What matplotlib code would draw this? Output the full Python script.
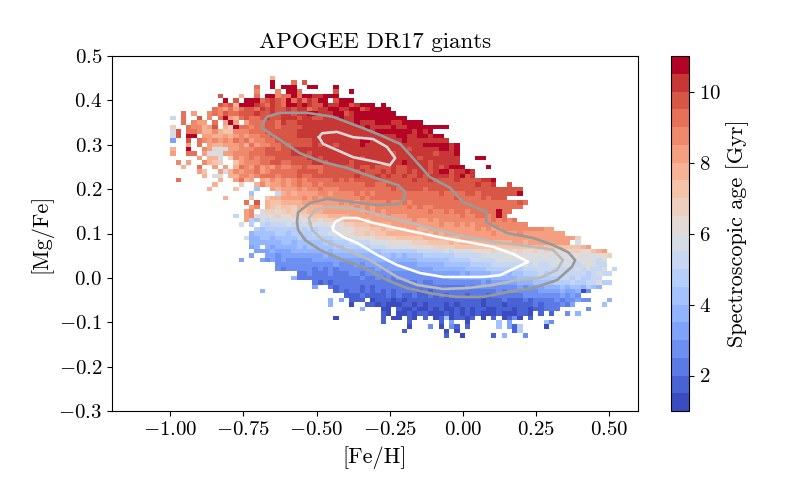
import numpy as np
import matplotlib
matplotlib.use("Agg")
import matplotlib.pyplot as plt
from matplotlib.colors import BoundaryNorm

plt.rcParams['font.family'] = ['cmr10', 'DejaVu Serif']
plt.rcParams['mathtext.fontset'] = 'cm'
plt.rcParams['axes.formatter.use_mathtext'] = True

title = 'APOGEE DR17 giants'
x_label = '[Fe/H]'
y_label = '[Mg/Fe]'
cbar_label = 'Spectroscopic age [Gyr]'
x_ticks = [-1.0, -0.75, -0.5, -0.25, 0.0, 0.25, 0.5]
x_tick_labels = ['$-1.00$', '$-0.75$', '$-0.50$', '$-0.25$', '$0.00$', '$0.25$', '$0.50$']
y_ticks = [-0.3, -0.2, -0.1, 0.0, 0.1, 0.2, 0.3, 0.4, 0.5]
y_tick_labels = ['$-0.3$', '$-0.2$', '$-0.1$', '$0.0$', '$0.1$', '$0.2$', '$0.3$', '$0.4$', '$0.5$']
cbar_ticks = [2, 4, 6, 8, 10]
age_levels = np.arange(1.0, 11.5, 0.5)

# [Fe/H] column index where each [Mg/Fe] row begins (rows run from high to low [Mg/Fe])
row_start = [20, 20, 17, 17, 10, 11, 10, 9, 3, 1, 3, 1, 1, 1, 1, 4, 1, 1, 6, 2, 3, 6, 7, 2, 9, 8,
             16, 11, 15, 16, 15, 13, 15, 14, 17, 16, 15, 16, 16, 17, 16, 14, 21, 21, 25, 24, 28, 28,
             18, 34, 31, 31, 37, 41, 32, 41, 46, 45, 53]
# Binned age per cell, one character per cell: 0-9 then a-j are the 20 age bins, space is empty
age_rows = [
 "d",
 "j   g h",
 "g  j jjj  jj   j",
 "f   f jjg      h  j",
 "h   d  g jjfggjgjjiijjj",
 "j h jjjghihgjgigihjj hjjj",
 "hghdjjjihgihgjjijihhjiijjhijjj j",
 "gfegeghhgihihhihiighiijjiijjhijjjj",
 "g e  fgfhgghhhihhihiihiijjiiijjhijjjjjjjj",
 "8 g  h f gjedghgghihhiiihiihhiiijiijjjjjjjjjj",
 "g fee g eje eggghhgihhiiiiiiiiiiijiiijjjiijjjj",
 "b  gffdeh dbjggfgghhghhhhiiiiiiiiiiiijiiiijiijjjjjjjj",
 "9h ggfddfdccfffggghhhhhhiiiiiiiiiiiiiiijjjjjjjijij",
 "9h jj eeddedefeffgghhhhhiiiiiiiiiiiiiii" "iiiijjiijjijj",
 "4  h gfefefegfgeffgghhhhhhhiiiiiiiiijji" "iiiiijiiiiiiii",
 "e g eddeeefdgeffgghghhhhihiihiiiijii" "iiiiiiiiijjjjjij",
 "d  j  fe9a9eefffgghhghhiiiiiiiiiiiiiiii" "iiiiiihiiiiijjij",
 "e  gg e9a9eefffggghhhhhiiihiiiiiiiiiiii" "iiihiiiiiiihiiij",
 "e dd9 bfefgfggghhhhhhiihiiiiiiihii" "iiiiiiiihiiiiiii" "   jj",
 "f e  fdcb  cefffgghhgghhhhiihiiiihiiii" "iiiiijiiiihiiiii",
 "d  g  e e dgfegefegffgghggghhhhhhihhihhhihhiiiihihijjj    j",
 "ec  e9dfeffgefggggghhhhghhhhhhhihhhihihhihiihijjhiiji",
 "d 9a ddffefgggfggghgghhhhhhhhihhhihihhihhihiiiihijhi",
 "g       d  egde edfefefgfggggghghghhhhhhhhhhhihhihhhhihhhhiij",
 "d    b  dfdeefefgffgfgggggggghhgghhhhhhhhhhhhhhhhhihhi  h",
 "d    c   6  edeeefeffgfffgggggggggghghhhhghhhhhhhhhhhhhhhhhh",
 "6    8dedeeeeffeffffgfgfgggggggggggghgggghhghhhhhhhj",
 "d    c  cddeeeefefefffffffgfgggggggggggggggghgggghghhh",
 "g h dccddddeeeeeeefefefffffgffgfgggggggggggggggggggghg",
 "ef dcbccbdcdddeeeeeefefeffffffgfgffggggggggggggggggg",
 "ef 9bbabcbccdddeeeeeeeefefeffffffffgffgfggfgggggjgg",
 "8 efa9a9baababbcccddddeeeeeeefeeeffffffffffgffggfgjg",
 "e76989999a9aababbccdddedeeeeeeeefeefeffffffffffgfgfg",
 "9 7 8788898898999a9abbcccddddeeeeeeeeefeefefeffffffffff",
 "7677777787878889a9abbbccdccddeeddeeeeeeeeefefeefffff" + "fffee",
 "56666776777788899aaabbcbccdddddddededeeeeeeeeefeeeefeee" + "eeeee",
 "9556656666767777788899a9abbbbcccccdddddddeeeeeeeeeeeeeeeeeee" + "eeeb",
 "55555566566666767778888999aaaaabbbccccdcddddddddddeedeeeeee" + "ee 9",
 "45 5455556566666767777788899999aaaabbbbccccccccccccccccdcccccccde",
 "444544455" "5555656666" "6666677777" "7788888989" "999aaabaab" "abaababaaa" "abbaacde",
 "4  " "4434444" "4444545555" "5555566565" "6667777778" "888899999a" "99a9a9a9a9" "a9a9a9aab",
 "4   " "4" "3434333" "3344444444" "4445555555" "5566666677" "7788888999" "9999999999" "999a9989",
 "33333" "3333334333" "4344444444" "4455555666" "6677778888" "8898988999" "9989a988",
 "32333" "3323232333" "3333434444" "4444455555" "5666677777" "7788888888" "88989889 8",
 "22322232223" "3233333333" "3334444444" "5455556665" "6677787888" "888878988",
 "5" "22222222222" "2322323233" "3333333344" "4444445555" "5666777778" "8787788",
 "21212222" "2222222222" "2232233333" "3333434444" "4555666677" "787788a77",
 "4  " "21222" "2121222222" "2222222222" "2323333333" "3434445556" "5665765",
 "5             " "1212" "2121212122" "2212122222" "2222222323" "3333344445" "44503",
 "11" "1211112121" "1211212122" "2122212222" "2233333334" "343",
 "5 4 111 " "01110101" "1111111111" "1110111211" "1212222323" "3433   5",
 "5   0  " "11010001" "1010111010" "1111011101" "1111212223" "24     6",
 "5   " "00 10" "0100101001" "0101100111" "011011222" "     3",
 "10 00" "1011000101" "0101000100" "0110 1 1" "  3 5",
 "0        1 00 " "10 1 01" "6" "01" "101 0 1 013" "0 1",
 "1    1     1 4  0     6 4      63",
 "0   3 0 31 1     6 417    0",
 "1       0 0          17",
 "1  0     1 5   3",
]
x_first_edge = -1.0186
x_bin = 0.018
y_first_edge = 0.455
y_bin = -0.01

# Density contours
outer_feh = [-0.687, -0.670, -0.625, -0.533, -0.444, -0.351, -0.283, -0.214, -0.170, -0.112, -0.043, 0.001,
             0.083, 0.080, 0.152, 0.241, 0.309, 0.361, 0.385, 0.374, 0.323, 0.241, 0.152, 0.070, -0.019, -0.101,
             -0.190, -0.259, -0.341, -0.409, -0.488, -0.539, -0.563, -0.567, -0.563, -0.522, -0.464, -0.375,
             -0.293, -0.225, -0.201, -0.197, -0.221, -0.307, -0.396, -0.478, -0.557, -0.625, -0.687]
outer_mgfe = [0.345, 0.363, 0.372, 0.372, 0.363, 0.340, 0.322, 0.302, 0.270, 0.227, 0.203, 0.171,
              0.148, 0.126, 0.101, 0.090, 0.074, 0.058, 0.040, 0.025, -0.005, -0.023, -0.032, -0.043, -0.043, -0.036,
              -0.023, -0.005, 0.025, 0.040, 0.063, 0.085, 0.108, 0.126, 0.148, 0.169, 0.178, 0.171,
              0.164, 0.166, 0.175, 0.194, 0.209, 0.227, 0.248, 0.261, 0.281, 0.311, 0.338]
middle_feh = [-0.522, -0.526, -0.505, -0.464, -0.375, -0.283, -0.190, -0.101, 0.015, 0.128, 0.241, 0.309, 0.343,
              0.323, 0.265, 0.186, 0.104, 0.015, -0.067, -0.156, -0.225, -0.317, -0.396, -0.478, -0.516, -0.522]
middle_mgfe = [0.124, 0.135, 0.153, 0.160, 0.157, 0.142, 0.126, 0.110, 0.092, 0.079, 0.070, 0.063, 0.040,
               0.018, 0.000, -0.005, -0.016, -0.023, -0.025, -0.016, 0.002, 0.040, 0.063, 0.085, 0.108, 0.124]
inner_feh = [-0.444, -0.437, -0.409, -0.362, -0.307, -0.225, -0.146, -0.067, 0.015, 0.104, 0.172, 0.224, 0.179,
             0.128, 0.070, 0.001, -0.067, -0.146, -0.225, -0.293, -0.362, -0.409, -0.444, -0.444]
inner_mgfe = [0.115, 0.126, 0.135, 0.135, 0.124, 0.112, 0.101, 0.090, 0.081, 0.070, 0.054, 0.036, 0.022,
              0.006, 0.002, 0.002, 0.002, 0.011, 0.029, 0.052, 0.079, 0.092, 0.108, 0.115]
high_feh = [-0.492, -0.481, -0.430, -0.375, -0.307, -0.259, -0.231, -0.249, -0.293, -0.375, -0.430, -0.478, -0.492]
high_mgfe = [0.317, 0.326, 0.329, 0.317, 0.313, 0.295, 0.270, 0.254, 0.261, 0.272, 0.288, 0.302, 0.317]

symbols = '0123456789abcdefghij'
n_rows = len(age_rows)
n_cols = 90
ages = np.full((n_rows, n_cols), np.nan)
for r, (s, row) in enumerate(zip(row_start, age_rows)):
    for k, ch in enumerate(row):
        if ch != ' ' and s + k < n_cols:
            ages[r, s + k] = age_levels[symbols.index(ch)] + 0.25

x_edges = x_first_edge + x_bin * np.arange(n_cols + 1)
y_edges = y_first_edge + y_bin * np.arange(n_rows + 1)

fig = plt.figure(figsize=(8, 5), dpi=100)
ax = fig.add_axes([112 / 800, 89 / 500, 526 / 800, 355 / 500])
cax = fig.add_axes([671 / 800, 89 / 500, 18 / 800, 355 / 500])

cmap = plt.get_cmap('coolwarm', 20)
norm = BoundaryNorm(age_levels, 20)
mesh = ax.pcolormesh(x_edges, y_edges, ages, cmap=cmap, norm=norm)
for xs, ys, col in [(outer_feh, outer_mgfe, '#999999'), (middle_feh, middle_mgfe, '#bbbbbb'),
                    (inner_feh, inner_mgfe, '#ffffff'), (high_feh, high_mgfe, '#d8d8d8')]:
    ax.plot(xs, ys, color=col, lw=1.9, solid_joinstyle='round')

ax.set_xlim(-1.2, 0.6)
ax.set_ylim(-0.3, 0.5)
ax.set_xticks(x_ticks, x_tick_labels)
ax.set_yticks(y_ticks, y_tick_labels)
ax.tick_params(labelsize=15)
ax.set_xlabel(x_label, fontsize=16, labelpad=5)
ax.set_ylabel(y_label, fontsize=16, labelpad=4)
ax.set_title(title, fontsize=16.5, pad=6)

cb = fig.colorbar(mesh, cax=cax, ticks=cbar_ticks, spacing='proportional')
cb.ax.set_yticklabels([f'${t}$' for t in cbar_ticks])
cb.ax.tick_params(labelsize=15, which='both')
cb.ax.minorticks_off()
cb.set_label(cbar_label, fontsize=16, labelpad=4)

fig.savefig('out.png', dpi=100)
